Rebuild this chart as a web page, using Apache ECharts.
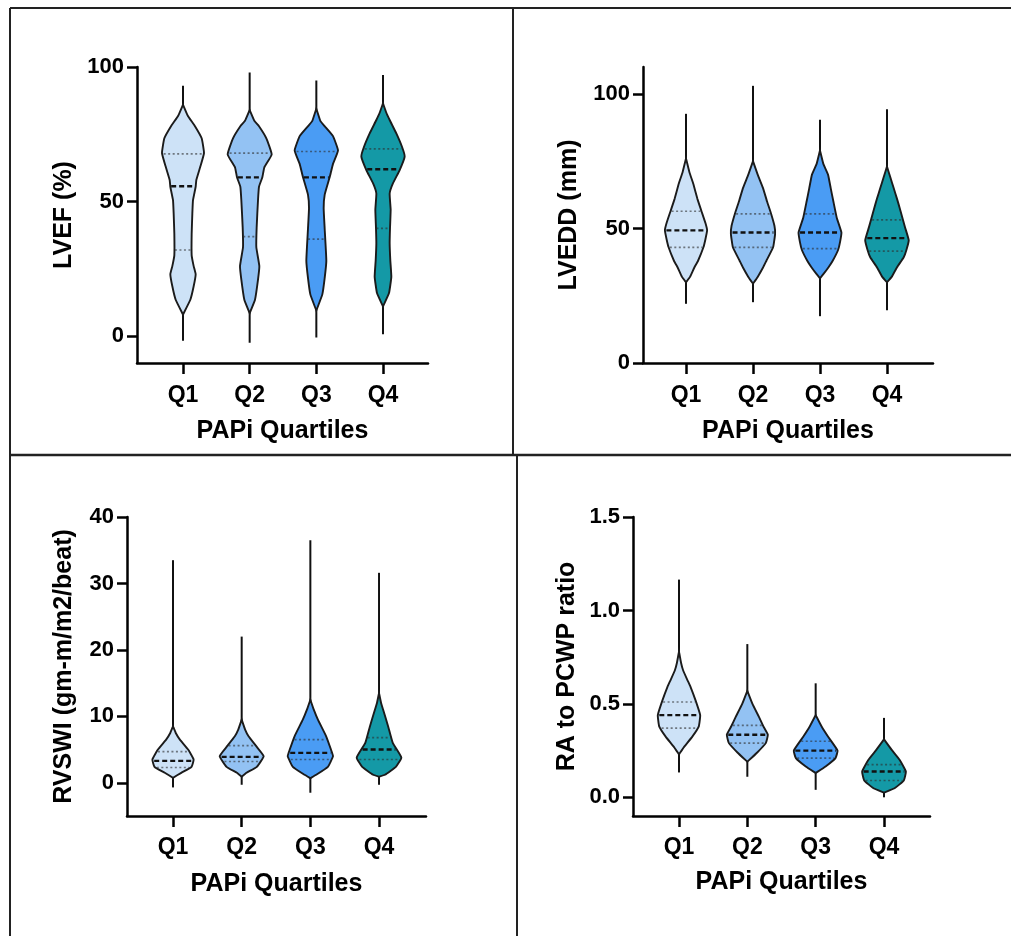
<!DOCTYPE html>
<html>
<head>
<meta charset="utf-8">
<script src="https://cdn.jsdelivr.net/npm/echarts@6/dist/echarts.min.js"></script>
<style>
  html, body { margin: 0; padding: 0; background: #fff; }
  #main { width: 1011px; height: 936px; }
</style>
</head>
<body>
<div id="main"></div>
<script>
var quartiles = ["Q1", "Q2", "Q3", "Q4"];
var fills = ["#cde2f7", "#93c2f3", "#4a9cf4", "#1499a6"];

// LVEF (%)
var lvefMin = [-1.7, -2.5, -0.5, 0.7];
var lvefMax = [93, 98, 95, 97];
var lvefQ1 = [32, 37, 36, 40];
var lvefMedian = [55.7, 59, 59, 62];
var lvefQ3 = [67.7, 68, 68.6, 69.6];
// density profile: [value, half width in category units]
var lvefShape = [
  [[86,0],[82,0.07],[78,0.18],[73.5,0.28],[68,0.315],[63,0.26],[58,0.2],[55.5,0.19],[50.5,0.15],[45.5,0.14],[38,0.13],[30,0.13],[26,0.16],[23,0.19],[18.5,0.16],[13.5,0.11],[8,0]],
  [[84,0],[80,0.07],[78,0.14],[73.5,0.25],[67.5,0.33],[62.7,0.22],[59,0.19],[55.5,0.14],[50.5,0.125],[40.5,0.105],[33,0.1],[26,0.145],[21,0.125],[13.5,0.08],[8.5,0]],
  [[84.5,0],[80,0.06],[78,0.125],[74.3,0.25],[69,0.325],[64,0.25],[59,0.2],[52.5,0.125],[47.5,0.11],[40,0.125],[28,0.15],[21.5,0.125],[15.5,0.09],[9.5,0]],
  [[86.5,0],[83,0.05],[80.3,0.1],[75.3,0.2],[70,0.29],[66.7,0.325],[61.7,0.25],[56.8,0.15],[53,0.1],[47,0.115],[40,0.105],[34.5,0.1],[28,0.11],[22,0.125],[16,0.09],[11,0]]
];

// LVEDD (mm)
var lveddMin = [22, 22.6, 17.4, 19.6];
var lveddMax = [92.6, 103, 90.4, 94.3];
var lveddQ1 = [43, 43, 42.5, 41.6];
var lveddMedian = [49.3, 48.5, 48.5, 46.4];
var lveddQ3 = [56.4, 55.4, 55.4, 53.2];
var lveddShape = [
  [[76,0],[71,0.05],[66.5,0.11],[61,0.17],[56.5,0.23],[52,0.29],[49.3,0.315],[46,0.29],[43,0.26],[38,0.18],[35.5,0.125],[32,0.06],[30,0]],
  [[75,0],[70,0.07],[65,0.15],[60,0.21],[55.5,0.27],[51,0.32],[48,0.33],[43,0.3],[38,0.2],[35.5,0.15],[32,0.07],[29.5,0]],
  [[79,0],[74,0.05],[70,0.12],[65,0.16],[60,0.2],[54,0.25],[48.5,0.32],[45,0.3],[42,0.27],[38,0.19],[35.5,0.125],[33,0.05],[31.5,0]],
  [[73,0],[69,0.05],[65,0.1],[61,0.15],[56.7,0.2],[50.4,0.27],[45.6,0.325],[42,0.29],[39.3,0.25],[35.6,0.15],[32,0.07],[30,0]]
];

// RVSWI (gm-m/m2/beat)
var rvswiMin = [-0.7, -0.3, -1.5, -0.3];
var rvswiMax = [33.5, 22, 36.5, 31.6];
var rvswiQ1 = [2.3, 3.2, 3.5, 3.5];
var rvswiMedian = [3.3, 3.9, 4.5, 5];
var rvswiQ3 = [4.7, 5.6, 6.5, 6.8];
var rvswiShape = [
  [[8.5,0],[7.5,0.04],[6.5,0.1],[5,0.22],[3.5,0.3],[2.4,0.27],[1.5,0.12],[0.75,0]],
  [[9.5,0],[8,0.05],[7,0.1],[5.4,0.22],[4,0.32],[2.4,0.22],[1.5,0.07],[0.9,0]],
  [[12.5,0],[11,0.05],[9.5,0.11],[7,0.23],[5,0.3],[4,0.33],[2.4,0.255],[1.2,0.085],[0.7,0]],
  [[13.5,0],[12,0.03],[11,0.06],[8.4,0.135],[6,0.2],[3.8,0.325],[2.4,0.245],[1.2,0.085],[0.9,0]]
];

// RA to PCWP ratio
var raMin = [0.133, 0.11, 0.04, 0.0];
var raMax = [1.165, 0.82, 0.61, 0.425];
var raQ1 = [0.37, 0.29, 0.21, 0.09];
var raMedian = [0.44, 0.335, 0.25, 0.138];
var raQ3 = [0.51, 0.385, 0.3, 0.175];
var raShape = [
  [[0.78,0],[0.72,0.03],[0.68,0.06],[0.63,0.12],[0.59,0.17],[0.516,0.245],[0.44,0.31],[0.38,0.29],[0.325,0.195],[0.27,0.075],[0.23,0]],
  [[0.57,0],[0.5,0.075],[0.43,0.17],[0.38,0.235],[0.335,0.3],[0.29,0.27],[0.24,0.145],[0.19,0]],
  [[0.44,0],[0.38,0.085],[0.325,0.18],[0.25,0.32],[0.21,0.29],[0.165,0.145],[0.13,0]],
  [[0.31,0],[0.255,0.11],[0.2,0.23],[0.138,0.32],[0.09,0.29],[0.05,0.16],[0.025,0]]
];

var font = "'Liberation Sans', Arial, sans-serif";

function halfAt(p, v) {
  for (var k = 0; k < p.length - 1; k++) {
    var a = p[k], b = p[k + 1];
    if (v <= a[0] && v >= b[0]) {
      var t = (a[0] - v) / (a[0] - b[0]);
      return a[1] + (b[1] - a[1]) * t;
    }
  }
  return 0;
}

function violin(shape, mins, maxs, q1s, meds, q3s) {
  return function (params, api) {
    var i = params.dataIndex;
    var x = i + 1;
    var p = shape[i];
    var pts = [];
    p.forEach(function (d) { pts.push(api.coord([x + d[1], d[0]])); });
    for (var k = p.length - 1; k >= 0; k--) pts.push(api.coord([x - p[k][1], p[k][0]]));

    function hline(v, style) {
      var h = halfAt(p, v) * 0.93;
      var a = api.coord([x - h, v]), b = api.coord([x + h, v]);
      return { type: "line", shape: { x1: a[0], y1: a[1], x2: b[0], y2: b[1] }, style: style };
    }
    var top = api.coord([x, maxs[i]]), bot = api.coord([x, mins[i]]);
    var quartStyle = { stroke: "rgba(45,45,45,0.6)", lineWidth: 1.7, lineDash: [2, 2.5] };
    return {
      type: "group",
      children: [
        { type: "line", shape: { x1: top[0], y1: top[1], x2: bot[0], y2: bot[1] },
          style: { stroke: "#111", lineWidth: 2 } },
        { type: "polygon", shape: { points: pts, smooth: 0.12 },
          style: { fill: fills[i], stroke: "#1b1b1b", lineWidth: 1.9 } },
        hline(q3s[i], quartStyle),
        hline(q1s[i], quartStyle),
        hline(meds[i], { stroke: "#111", lineWidth: 2.4, lineDash: [5, 3] })
      ]
    };
  };
}

var panels = [
  { grid: { left: 137, top: 67, width: 291, height: 296 }, xMin: 0.31, xMax: 4.675,
    yMin: -10, yMax: 100, yTicks: [0, 50, 100], name: "LVEF (%)", nameGap: 60, xNameGap: 56, labelGap: 21,
    render: violin(lvefShape, lvefMin, lvefMax, lvefQ1, lvefMedian, lvefQ3), dec: 0 },
  { grid: { left: 643, top: 67, width: 290, height: 296 }, xMin: 0.358, xMax: 4.687,
    yMin: 0, yMax: 110, yTicks: [0, 50, 100], name: "LVEDD (mm)", nameGap: 61, xNameGap: 56, labelGap: 21,
    render: violin(lveddShape, lveddMin, lveddMax, lveddQ1, lveddMedian, lveddQ3), dec: 0 },
  { grid: { left: 127, top: 517, width: 299, height: 299 }, xMin: 0.33, xMax: 4.684,
    yMin: -5, yMax: 40, yTicks: [0, 10, 20, 30, 40], name: "RVSWI (gm-m/m2/beat)", nameGap: 50, xNameGap: 56, labelGap: 20,
    render: violin(rvswiShape, rvswiMin, rvswiMax, rvswiQ1, rvswiMedian, rvswiQ3), dec: 0 },
  { grid: { left: 633, top: 517, width: 297, height: 299 }, xMin: 0.327, xMax: 4.673,
    yMin: -0.1, yMax: 1.5, yTicks: [0, 0.5, 1.0, 1.5], name: "RA to PCWP ratio", nameGap: 53, xNameGap: 54, labelGap: 20,
    render: violin(raShape, raMin, raMax, raQ1, raMedian, raQ3), dec: 1 }
];

var axisLine = { show: true, onZero: false, lineStyle: { color: "#000", width: 2.5 } };

var option = {
  backgroundColor: "#fff",
  animation: false,
  grid: [], xAxis: [], yAxis: [], series: [],
  graphic: [
    { type: "line", shape: { x1: 10, y1: 8, x2: 1011, y2: 8 }, style: { stroke: "#222", lineWidth: 2 } },
    { type: "line", shape: { x1: 10, y1: 8, x2: 10, y2: 936 }, style: { stroke: "#222", lineWidth: 2 } },
    { type: "line", shape: { x1: 10, y1: 455, x2: 1011, y2: 455 }, style: { stroke: "#222", lineWidth: 2.5 } },
    { type: "line", shape: { x1: 513, y1: 8, x2: 513, y2: 455 }, style: { stroke: "#222", lineWidth: 2 } },
    { type: "line", shape: { x1: 517, y1: 455, x2: 517, y2: 936 }, style: { stroke: "#222", lineWidth: 2 } }
  ]
};

panels.forEach(function (pn, gi) {
  var g = pn.grid;
  option.grid.push({ left: g.left, top: g.top, width: g.width, height: g.height, containLabel: false, outerBoundsMode: "none" });
  option.xAxis.push({
    type: "value", gridIndex: gi, min: pn.xMin, max: pn.xMax,
    name: "PAPi Quartiles", nameLocation: "middle", nameGap: pn.xNameGap,
    nameTextStyle: { fontFamily: font, fontWeight: "bold", fontSize: 25, color: "#000" },
    axisLine: axisLine,
    axisTick: { show: true, length: 11, customValues: [1, 2, 3, 4], lineStyle: { color: "#000", width: 2.5 } },
    axisLabel: { show: true, customValues: [1, 2, 3, 4], margin: pn.labelGap,
      fontFamily: font, fontWeight: "bold", fontSize: 23, color: "#000",
      formatter: function (v) { return quartiles[Math.round(v) - 1]; } },
    splitLine: { show: false }
  });
  option.yAxis.push({
    type: "value", gridIndex: gi, min: pn.yMin, max: pn.yMax,
    name: pn.name, nameLocation: "middle", nameGap: pn.nameGap,
    nameTextStyle: { fontFamily: font, fontWeight: "bold", fontSize: 25, color: "#000" },
    axisLine: axisLine,
    axisTick: { show: true, length: 10, customValues: pn.yTicks, lineStyle: { color: "#000", width: 2.5 } },
    axisLabel: { show: true, customValues: pn.yTicks, margin: 13,
      fontFamily: font, fontWeight: "bold", fontSize: 22, color: "#000",
      formatter: (function (d) { return function (v) { return v.toFixed(d); }; })(pn.dec) },
    splitLine: { show: false }
  });
  option.series.push({
    type: "custom", xAxisIndex: gi, yAxisIndex: gi, clip: false,
    renderItem: pn.render,
    data: [[1, 0], [2, 0], [3, 0], [4, 0]]
  });
});

var chart = echarts.init(document.getElementById("main"));
chart.setOption(option);
</script>
</body>
</html>
